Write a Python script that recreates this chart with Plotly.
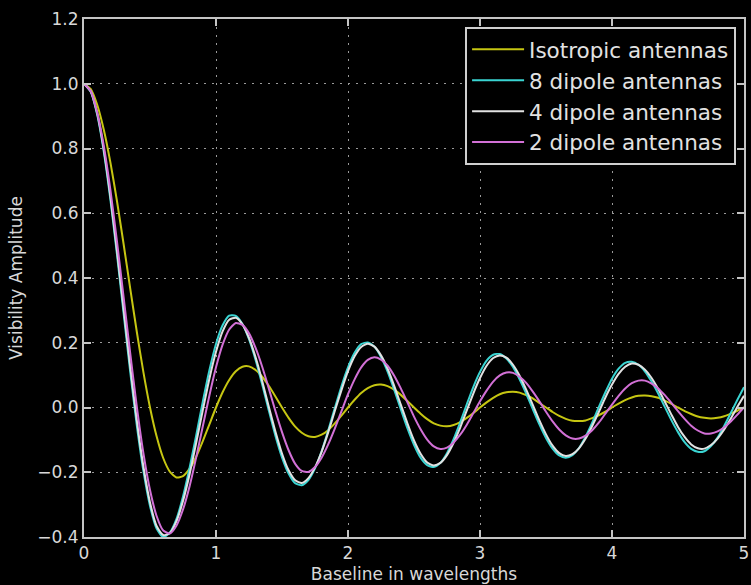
import plotly.graph_objects as go

# Sample positions along the baseline (in wavelengths)
baseline = [round(0.05 * i, 2) for i in range(101)]

# Visibility amplitude for each antenna configuration, sampled every 0.05 wavelengths
isotropic = [
    1.000, 0.984, 0.935, 0.858, 0.757, 0.637, 0.505, 0.368, 0.234, 0.109,
    0.000, -0.089, -0.156, -0.198, -0.216, -0.212, -0.189, -0.152, -0.104, -0.052,
    0.000, 0.047, 0.085, 0.112, 0.126, 0.127, 0.116, 0.095, 0.067, 0.034,
    0.000, -0.032, -0.059, -0.078, -0.089, -0.091, -0.084, -0.070, -0.049, -0.025,
    0.000, 0.024, 0.045, 0.060, 0.069, 0.071, 0.066, 0.055, 0.039, 0.020,
    0.000, -0.019, -0.036, -0.049, -0.056, -0.058, -0.054, -0.045, -0.032, -0.017,
    0.000, 0.016, 0.030, 0.041, 0.047, 0.049, 0.046, 0.038, 0.028, 0.014,
    0.000, -0.014, -0.026, -0.035, -0.041, -0.042, -0.040, -0.033, -0.024, -0.013,
    0.000, 0.012, 0.023, 0.031, 0.036, 0.037, 0.035, 0.030, 0.021, 0.011,
    0.000, -0.011, -0.020, -0.028, -0.032, -0.034, -0.032, -0.027, -0.019, -0.010,
    0.000,
]

dipole8 = [
    1.000, 0.976, 0.904, 0.790, 0.642, 0.472, 0.291, 0.111, -0.055, -0.196,
    -0.304, -0.374, -0.400, -0.387, -0.345, -0.275, -0.186, -0.086, 0.018, 0.115,
    0.196, 0.254, 0.284, 0.283, 0.258, 0.211, 0.147, 0.071, -0.009, -0.087,
    -0.154, -0.204, -0.234, -0.240, -0.224, -0.188, -0.135, -0.071, -0.002, 0.065,
    0.124, 0.169, 0.196, 0.201, 0.188, 0.156, 0.111, 0.055, -0.005, -0.064,
    -0.115, -0.155, -0.178, -0.184, -0.171, -0.141, -0.098, -0.046, 0.010, 0.064,
    0.110, 0.145, 0.163, 0.165, 0.151, 0.125, 0.087, 0.043, -0.005, -0.052,
    -0.094, -0.127, -0.148, -0.155, -0.147, -0.125, -0.090, -0.047, 0.001, 0.047,
    0.089, 0.120, 0.138, 0.141, 0.132, 0.111, 0.080, 0.043, 0.002, -0.039,
    -0.076, -0.107, -0.128, -0.137, -0.135, -0.119, -0.093, -0.057, -0.017, 0.024,
    0.063,
]

dipole4 = [
    1.000, 0.977, 0.908, 0.797, 0.652, 0.484, 0.305, 0.127, -0.039, -0.182,
    -0.293, -0.366, -0.394, -0.388, -0.352, -0.289, -0.206, -0.109, -0.008, 0.089,
    0.172, 0.235, 0.271, 0.277, 0.257, 0.215, 0.155, 0.082, 0.002, -0.074,
    -0.142, -0.194, -0.225, -0.233, -0.218, -0.185, -0.137, -0.077, -0.011, 0.053,
    0.112, 0.158, 0.187, 0.197, 0.188, 0.161, 0.120, 0.067, 0.009, -0.049,
    -0.102, -0.143, -0.170, -0.179, -0.171, -0.147, -0.109, -0.062, -0.009, 0.044,
    0.091, 0.129, 0.153, 0.161, 0.154, 0.132, 0.098, 0.055, 0.008, -0.040,
    -0.083, -0.118, -0.141, -0.150, -0.144, -0.126, -0.096, -0.057, -0.014, 0.031,
    0.071, 0.104, 0.126, 0.136, 0.132, 0.117, 0.091, 0.057, 0.018, -0.022,
    -0.060, -0.091, -0.114, -0.126, -0.127, -0.116, -0.096, -0.068, -0.034, 0.002,
    0.036,
]

dipole2 = [
    1.000, 0.978, 0.912, 0.808, 0.672, 0.512, 0.341, 0.168, 0.003, -0.141,
    -0.255, -0.335, -0.380, -0.389, -0.365, -0.315, -0.243, -0.154, -0.058, 0.037,
    0.124, 0.194, 0.241, 0.261, 0.255, 0.229, 0.184, 0.126, 0.059, -0.011,
    -0.076, -0.132, -0.174, -0.196, -0.199, -0.184, -0.155, -0.114, -0.065, -0.012,
    0.041, 0.087, 0.124, 0.147, 0.155, 0.148, 0.129, 0.098, 0.059, 0.016,
    -0.028, -0.067, -0.099, -0.120, -0.128, -0.124, -0.108, -0.084, -0.053, -0.017,
    0.019, 0.052, 0.080, 0.099, 0.108, 0.107, 0.095, 0.076, 0.049, 0.019,
    -0.013, -0.043, -0.068, -0.086, -0.096, -0.096, -0.087, -0.070, -0.047, -0.019,
    0.009, 0.036, 0.059, 0.075, 0.083, 0.083, 0.074, 0.059, 0.038, 0.014,
    -0.011, -0.035, -0.056, -0.071, -0.080, -0.080, -0.074, -0.061, -0.043, -0.022,
    0.001,
]

series_names = ["Isotropic antennas", "8 dipole antennas", "4 dipole antennas", "2 dipole antennas"]
series_values = [isotropic, dipole8, dipole4, dipole2]
series_colors = ["#c6c612", "#3ad4d2", "#e2e2e2", "#d270d6"]

x_ticks = [0, 1, 2, 3, 4, 5]
y_ticks = [-0.4, -0.2, 0.0, 0.2, 0.4, 0.6, 0.8, 1.0, 1.2]
y_ticktext = [f"{v:.1f}".replace("-", "\u2212") for v in y_ticks]

fig = go.Figure()
for name, vals, color in zip(series_names, series_values, series_colors):
    fig.add_trace(go.Scatter(
        x=baseline, y=vals, mode="lines", name=name,
        line=dict(color=color, width=2, shape="spline", smoothing=0.6),
    ))

frame_color = "#c4c4c4"
grid_color = "#9a9a9a"

fig.update_layout(
    width=751, height=585,
    margin=dict(l=84, r=2, t=19, b=48),
    paper_bgcolor="black", plot_bgcolor="black",
    font=dict(family="DejaVu Sans", color="#d8d8d8", size=17),
    legend=dict(
        x=0.988, y=0.985, xanchor="right", yanchor="top",
        bgcolor="black", bordercolor="#cfcfcf", borderwidth=2,
        font=dict(size=21.5, color="#e2e2e2"),
        itemwidth=52,
    ),
)

fig.update_xaxes(
    range=[0, 5], tickvals=x_ticks, ticktext=[str(v) for v in x_ticks],
    ticklabeloverflow="allow",
    showgrid=True, gridcolor=grid_color, gridwidth=1, griddash="2px,6px",
    showline=True, linecolor=frame_color, linewidth=2, mirror="ticks",
    ticks="inside", ticklen=7, tickwidth=1.5, tickcolor=frame_color,
    zeroline=False,
    title=dict(text="Baseline in wavelengths", font=dict(size=17), standoff=6),
)
fig.update_yaxes(
    range=[-0.4, 1.2], tickvals=y_ticks, ticktext=y_ticktext,
    showgrid=True, gridcolor=grid_color, gridwidth=1, griddash="2px,6px",
    showline=True, linecolor=frame_color, linewidth=2, mirror="ticks",
    ticks="inside", ticklen=7, tickwidth=1.5, tickcolor=frame_color,
    zeroline=False,
    title=dict(text="Visibility Amplitude", font=dict(size=17), standoff=10),
)

fig.write_html("out.html")
